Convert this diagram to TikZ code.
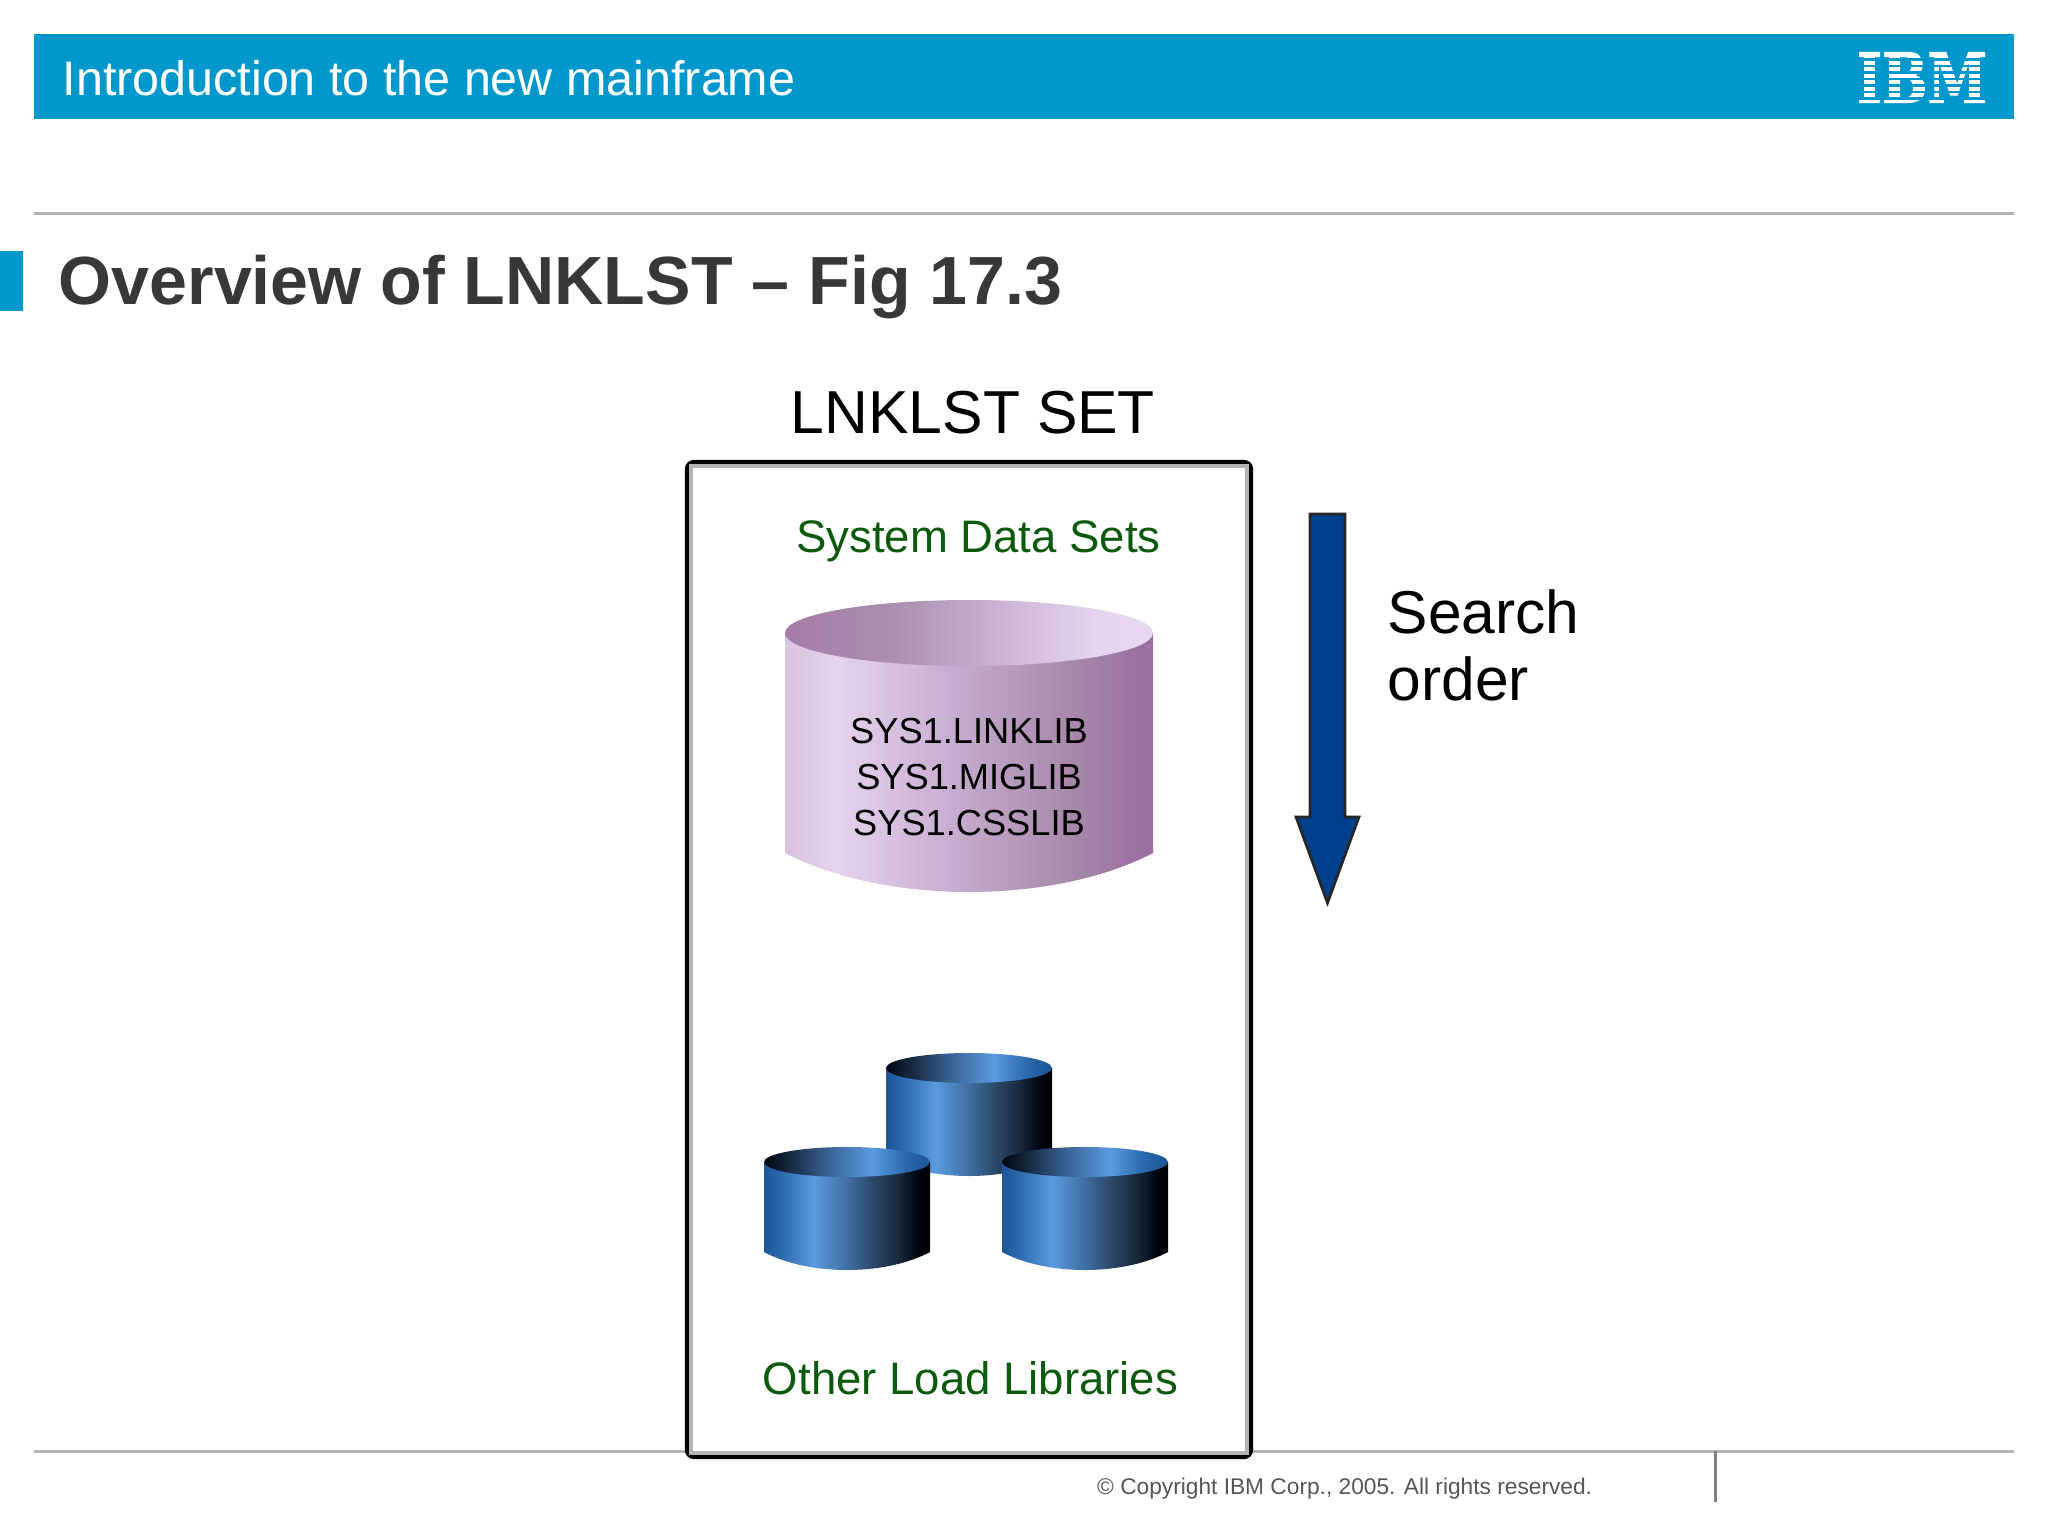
\documentclass[tikz,border=0pt]{standalone}
\usepackage{fontspec}
\setmainfont{Liberation Sans}
\newfontfamily\logofont[UprightFont=* Bold,FakeBold=1.5]{DejaVu Serif}
\definecolor{headblue}{HTML}{0098CC}
\definecolor{rulegray}{HTML}{B4B4B4}
\definecolor{titlegray}{HTML}{383838}
\definecolor{labelgreen}{HTML}{0B5A0B}
\definecolor{arrowblue}{HTML}{003F8C}
\definecolor{copygray}{HTML}{565656}
\definecolor{drumedge}{HTML}{1D5596}
\definecolor{drumside}{HTML}{2A69AD}
\definecolor{drumlight}{HTML}{5A9ADE}
\definecolor{drummid}{HTML}{3F6FA3}
\definecolor{drumdim}{HTML}{2C4A6B}
\definecolor{drumdeep}{HTML}{1A2A40}
\definecolor{drumdark}{HTML}{000510}
\definecolor{drumtopa}{HTML}{1E3550}
\definecolor{drumtopb}{HTML}{3A6699}
\definecolor{plumpale}{HTML}{D8C2DE}
\definecolor{plumlight}{HTML}{E6D3EE}
\definecolor{plummid}{HTML}{C8AED2}
\definecolor{plumdim}{HTML}{A788AB}
\definecolor{plumdark}{HTML}{9A70A0}
\definecolor{plumtopa}{HTML}{A67BA8}
\definecolor{plumtopb}{HTML}{AB8FB0}
\definecolor{plumtopc}{HTML}{CDB5D6}
\definecolor{plumtopd}{HTML}{E8D8EE}
\pgfdeclarehorizontalshading{bluebody}{100bp}{color(0bp)=(drumedge);color(25bp)=(drumedge);color(30bp)=(drumside);color(40bp)=(drumlight);color(50bp)=(drummid);color(57.5bp)=(drumdim);color(65bp)=(drumdeep);color(71.5bp)=(drumdark);color(75bp)=(black);color(100bp)=(black)}
\pgfdeclarehorizontalshading{bluetop}{100bp}{color(0bp)=(drumdark);color(25bp)=(drumdark);color(35bp)=(drumtopa);color(45bp)=(drumtopb);color(57.5bp)=(drumlight);color(67.5bp)=(drumside);color(75bp)=(drumedge);color(100bp)=(drumedge)}
\pgfdeclarehorizontalshading{purplebody}{100bp}{color(0bp)=(plumpale);color(25bp)=(plumpale);color(32bp)=(plumlight);color(47bp)=(plummid);color(64bp)=(plumdim);color(73bp)=(plumdark);color(100bp)=(plumdark)}
\pgfdeclarehorizontalshading{purpletop}{100bp}{color(0bp)=(plumtopa);color(25bp)=(plumtopa);color(40bp)=(plumtopb);color(55bp)=(plumtopc);color(67bp)=(plumlight);color(75bp)=(plumtopd);color(100bp)=(plumtopd)}
\tikzset{
  rulelabel/.style={anchor=base west,inner sep=0pt},
  greenlabel/.style={anchor=base,inner sep=0pt,text=labelgreen,font=\fontsize{12.95}{15}\selectfont},
  syslabel/.style={anchor=base,inner sep=0pt,text=black,font=\fontsize{10.3}{12}\selectfont},
  searchlabel/.style={anchor=base west,inner sep=0pt,text=black,font=\fontsize{17.2}{20}\selectfont},
  rulestyle/.style={draw=rulegray,line width=0.85pt}
}
\begin{document}
\begin{tikzpicture}[x=0.01cm,y=-0.01cm]
  \useasboundingbox[fill=white] (0,0) rectangle (2048,1536);
  \fill[headblue] (34,34) rectangle (2014,119);
  \node[rulelabel,text=white,font=\fontsize{13.78}{16}\selectfont] (headtext) at (62,95.5) {Introduction to the new mainframe};
  \node[anchor=center,inner sep=0pt,text=white,font=\logofont\fontsize{17}{17}\selectfont,xscale=0.9,yscale=1.15] (logotext) at (1922,77.5) {IBM};
  \foreach \y in {58,64.5,71,77.5,84,90.5,97}
    \fill[headblue] (1850,\y) rectangle (1995,\y+2.5);
  \draw[rulestyle] (34,213) -- (2014,213);
  \draw[rulestyle] (34,1451) -- (2014,1451);
  \draw[rulestyle,draw=gray] (1715,1451) -- (1715,1502);
  \fill[headblue] (0,251) rectangle (23,311);
  \node[rulelabel,text=titlegray,font=\bfseries\fontsize{19.38}{22}\selectfont] (title) at (58,304) {Overview of LNKLST -- Fig 17.3};
  \node[anchor=base,inner sep=0pt,text=black,font=\fontsize{17.25}{20}\selectfont] (settext) at (973,433.5) {LNKLST SET};
  \draw[fill=white,line width=1.2pt,rounded corners=2pt] (687,462) rectangle (1251,1457);
  \draw[rulegray,line width=1.3pt] (691,466) rectangle (1247,1453);
  \node[greenlabel] (systext) at (978.5,552.5) {System Data Sets};
  \path[shading=purplebody] (785,633) -- (785,853) .. controls (885,905) and (1053,905) .. (1153,853) -- (1153,633) -- cycle;
  \path[shading=purpletop] (969,633) ellipse[x radius=184,y radius=33];
  \node[syslabel] (linklib) at (969,743) {SYS1.LINKLIB};
  \node[syslabel] (miglib) at (969,789) {SYS1.MIGLIB};
  \node[syslabel] (csslib) at (969,835.5) {SYS1.CSSLIB};
  \foreach \cx/\cy in {969/1068,847/1162,1085/1162} {
    \path[shading=bluebody] (\cx-83,\cy) -- (\cx-83,\cy+90) .. controls (\cx-38,\cy+114) and (\cx+38,\cy+114) .. (\cx+83,\cy+90) -- (\cx+83,\cy) -- cycle;
    \path[shading=bluetop] (\cx,\cy) ellipse[x radius=83,y radius=15];
  }
  \node[greenlabel] (othertext) at (970.5,1394.5) {Other Load Libraries};
  \draw[fill=arrowblue,draw=black!85,line width=0.75pt,line join=miter] (1310,514) -- (1345,514) -- (1345,817) -- (1359,817) -- (1327.5,903) -- (1296,817) -- (1310,817) -- cycle;
  \node[searchlabel] (searchtext) at (1387,633) {Search};
  \node[searchlabel] (ordertext) at (1387,700.5) {order};
  \node[rulelabel,text=copygray,font=\fontsize{6.46}{8}\selectfont] (copytext) at (1096.5,1494) {\textcopyright{} Copyright IBM Corp., 2005. All rights reserved.};
\end{tikzpicture}
\end{document}
